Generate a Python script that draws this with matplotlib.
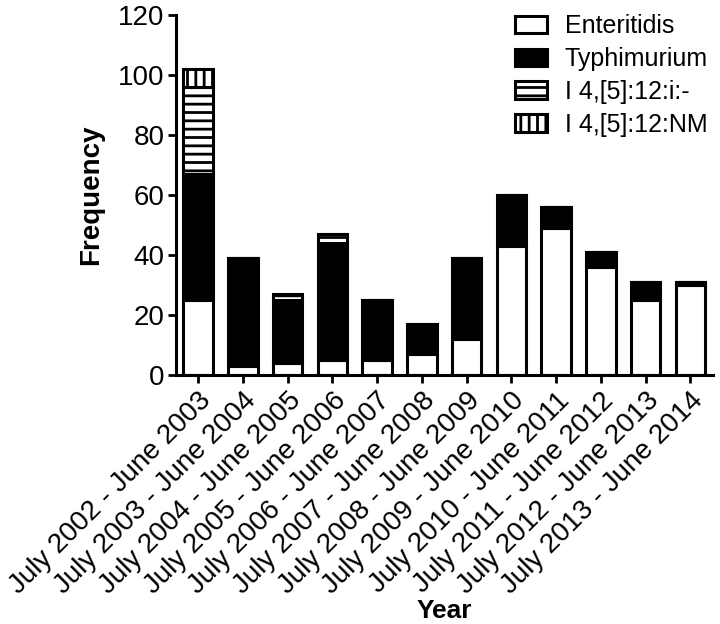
import matplotlib
matplotlib.use("Agg")
import matplotlib.pyplot as plt
import numpy as np

years = ["July 2002 - June 2003", "July 2003 - June 2004", "July 2004 - June 2005",
         "July 2005 - June 2006", "July 2006 - June 2007", "July 2007 - June 2008",
         "July 2008 - June 2009", "July 2009 - June 2010", "July 2010 - June 2011",
         "July 2011 - June 2012", "July 2012 - June 2013", "July 2013 - June 2014"]
enteritidis = [25, 3, 4, 5, 5, 7, 12, 43, 49, 36, 25, 30]
typhimurium = [42, 36, 21, 39, 20, 9, 27, 17, 7, 5, 6, 1]
i_minus = [29, 0, 2, 3, 0, 1, 0, 0, 0, 0, 0, 0]
nm = [6, 0, 0, 0, 0, 0, 0, 0, 0, 0, 0, 0]
series_labels = ["Enteritidis", "Typhimurium", "I 4,[5]:12:i:-", "I 4,[5]:12:NM"]

plt.rcParams['font.family'] = ['Liberation Sans', 'DejaVu Sans']
plt.rcParams['hatch.linewidth'] = 2.0

fig = plt.figure(figsize=(7.2, 6.24), dpi=100)
ax = fig.add_axes([0.244, 0.399, 0.746, 0.577])

x = np.arange(len(years))
w = 0.66
lw = 2.2
b0 = np.zeros(len(years))
ax.bar(x, enteritidis, w, bottom=b0, facecolor='white', edgecolor='black', linewidth=lw, label=series_labels[0])
b1 = b0 + np.array(enteritidis)
ax.bar(x, typhimurium, w, bottom=b1, facecolor='black', edgecolor='black', linewidth=lw, label=series_labels[1])
b2 = b1 + np.array(typhimurium)
ax.bar(x, i_minus, w, bottom=b2, facecolor='white', edgecolor='black', hatch='--', linewidth=lw, label=series_labels[2])
b3 = b2 + np.array(i_minus)
ax.bar(x, nm, w, bottom=b3, facecolor='white', edgecolor='black', hatch='||', linewidth=lw, label=series_labels[3])

ax.set_xlim(-0.5, 11.5)
ax.set_ylim(0, 120)
ax.set_yticks(range(0, 121, 20))
ax.set_xticks(x)
ax.set_xticklabels(years, rotation=45, ha='right', rotation_mode='anchor', fontsize=20)
ax.tick_params(axis='y', labelsize=20, width=2, length=6, pad=2)
ax.tick_params(axis='x', width=2, length=6, pad=3)
for s in ['top', 'right']:
    ax.spines[s].set_visible(False)
for s in ['left', 'bottom']:
    ax.spines[s].set_linewidth(2.2)

ax.set_ylabel("Frequency", fontsize=20, fontweight='bold', labelpad=10)
ax.set_xlabel("Year", fontsize=19, fontweight='bold', labelpad=0)

ax.legend(loc='upper right', frameon=False, fontsize=18, handlelength=1.3, handleheight=0.7,
          bbox_to_anchor=(1.033, 1.064), labelspacing=0.35, handletextpad=0.7)

fig.savefig("out.png", dpi=100)
